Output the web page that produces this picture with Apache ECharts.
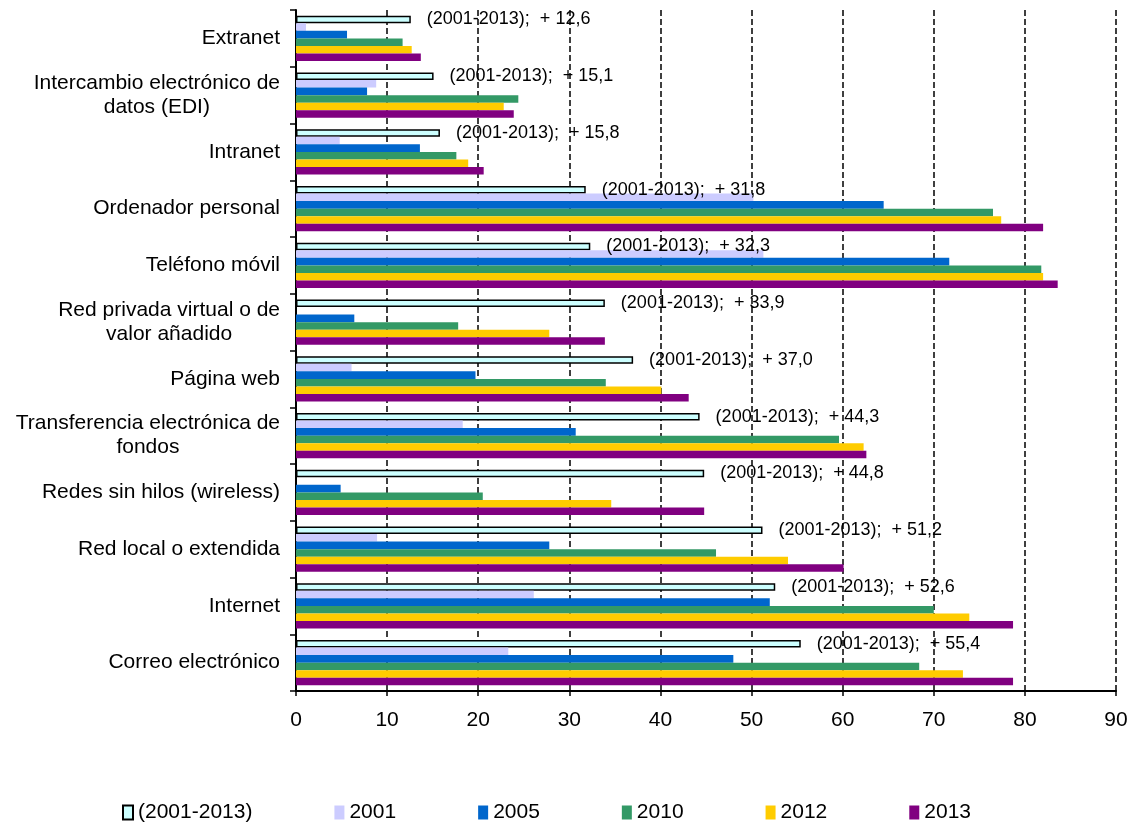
<!DOCTYPE html>
<html>
<head>
<meta charset="utf-8">
<script src="https://cdn.jsdelivr.net/npm/echarts@6/dist/echarts.min.js"></script>
<style>
html,body{margin:0;padding:0;background:#fff;}
#chart{width:1139px;height:823px;}
</style>
</head>
<body>
<div id="chart"></div>
<script>
var categories = ['Extranet','Intercambio electrónico de\ndatos (EDI)','Intranet','Ordenador personal','Teléfono móvil','Red privada virtual o de\nvalor añadido','Página web','Transferencia electrónica de\nfondos','Redes sin hilos (wireless)','Red local o extendida','Internet','Correo electrónico'];
var seriesNames = ['(2001-2013)','2001','2005','2010','2012','2013'];
var diff2001_2013 = [12.6, 15.1, 15.8, 31.8, 32.3, 33.9, 37.0, 44.3, 44.8, 51.2, 52.6, 55.4];
var y2001 = [1.1, 8.8, 4.8, 50.2, 51.3, '-', 6.1, 18.3, '-', 8.9, 26.1, 23.3];
var y2005 = [5.6, 7.8, 13.6, 64.5, 71.7, 6.4, 19.7, 30.7, 4.9, 27.8, 52.0, 48.0];
var y2010 = [11.7, 24.4, 17.6, 76.5, 81.8, 17.8, 34.0, 59.6, 20.5, 46.1, 70.0, 68.4];
var y2012 = [12.7, 22.8, 18.9, 77.4, 82.0, 27.8, 40.1, 62.3, 34.6, 54.0, 73.9, 73.2];
var y2013 = [13.7, 23.9, 20.6, 82.0, 83.6, 33.9, 43.1, 62.6, 44.8, 60.1, 78.7, 78.7];
var colors = ['#CCFFFF','#CCCCFF','#0066CC','#339966','#FFCC00','#800080'];

var FONT = 'Liberation Sans, Arial, sans-serif';
var allData = [diff2001_2013, y2001, y2005, y2010, y2012, y2013];

var series = allData.map(function (d, i) {
  var s = {
    name: seriesNames[i],
    type: 'bar',
    data: d,
    barGap: '0%',
    barCategoryGap: '20%',
    itemStyle: { color: colors[i] },
    emphasis: { disabled: true }
  };
  if (i === 0) {
    s.itemStyle.borderColor = '#000';
    s.itemStyle.borderWidth = 1.5;
    s.label = {
      show: true,
      position: 'right',
      distance: 16,
      color: '#000',
      fontFamily: FONT,
      fontSize: 18,
      formatter: function (p) {
        return '(2001-2013);  + ' + p.value.toFixed(1).replace('.', ',');
      }
    };
  }
  return s;
});

var chart = echarts.init(document.getElementById('chart'), null, { renderer: 'canvas' });
chart.setOption({
  animation: false,
  backgroundColor: '#fff',
  grid: { left: 296, right: 23, top: 10, height: 681, containLabel: false },
  legend: {
    data: seriesNames,
    icon: 'rect',
    left: 117,
    top: 797,
    itemGap: 82,
    itemWidth: 10,
    itemHeight: 14,
    textStyle: { color: '#000', fontFamily: FONT, fontSize: 21 }
  },
  xAxis: {
    type: 'value',
    min: 0,
    max: 90,
    interval: 10,
    axisLine: { show: true, lineStyle: { color: '#000', width: 2 } },
    axisTick: { show: true, length: 5, lineStyle: { color: '#000', width: 1.5 } },
    axisLabel: { color: '#000', fontFamily: FONT, fontSize: 21, margin: 19 },
    splitLine: { show: true, lineStyle: { color: '#000', width: 1.5, type: [6, 3] } }
  },
  yAxis: {
    type: 'category',
    data: categories,
    inverse: true,
    axisLine: { show: true, lineStyle: { color: '#000', width: 2 } },
    axisTick: { show: true, length: 6, lineStyle: { color: '#000', width: 1.5 } },
    axisLabel: {
      margin: 16,
      color: '#000',
      fontFamily: FONT,
      fontSize: 21,
      formatter: function (v) {
        return v.split('\n').map(function (s) { return '{c|' + s + '}'; }).join('\n');
      },
      rich: { c: { align: 'center', fontFamily: FONT, fontSize: 21, color: '#000', lineHeight: 24 } }
    },
    splitLine: { show: false }
  },
  series: series
});
</script>
</body>
</html>
